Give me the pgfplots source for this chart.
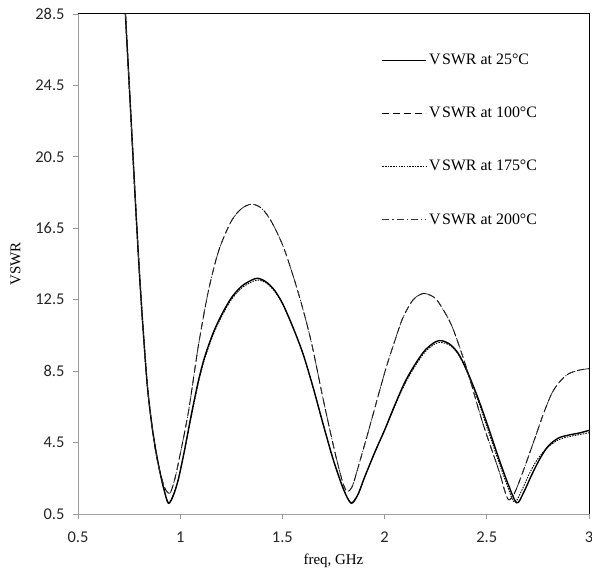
\documentclass[border=0pt]{standalone}
\usepackage{fontspec}
\setmainfont{Liberation Serif}
\newfontfamily\tickfont{Carlito}
\usepackage{pgfplots}
\pgfplotsset{compat=1.18}
\usepackage{pgfplotstable}
\usetikzlibrary{calc}

\pgfplotstableread{
f v
0.725 30.2
0.732 28.5
0.755 23.6
0.778 18.6
0.80 14.1
0.82 10.6
0.84 7.6
0.86 5.6
0.88 4.1
0.90 2.9
0.92 1.9
0.942 1.1
0.965 1.5
0.99 2.4
1.02 4.0
1.055 6.1
1.09 8.0
1.12 9.3
1.16 10.6
1.20 11.6
1.25 12.6
1.30 13.25
1.35 13.6
1.38 13.7
1.42 13.5
1.46 13.05
1.50 12.3
1.55 11.0
1.60 9.5
1.65 7.6
1.70 5.5
1.75 3.5
1.80 1.85
1.837 1.1
1.87 1.6
1.90 2.5
1.95 3.9
2.00 5.2
2.05 6.6
2.10 7.9
2.15 8.9
2.20 9.7
2.25 10.15
2.28 10.2
2.32 10.0
2.36 9.5
2.40 8.6
2.45 7.2
2.50 5.6
2.55 3.9
2.60 2.3
2.646 1.13
2.68 1.7
2.72 2.7
2.76 3.6
2.80 4.3
2.85 4.75
2.90 4.92
2.95 5.03
3.00 5.18
}\tA

\pgfplotstableread{
f v
0.725 30.2
0.732 28.5
0.755 23.6
0.778 18.6
0.80 14.1
0.82 10.6
0.84 7.6
0.86 5.6
0.88 4.0
0.90 2.9
0.925 1.95
0.949 1.66
0.97 2.3
0.99 3.3
1.04 6.2
1.09 10.0
1.14 13.1
1.19 15.3
1.25 16.9
1.30 17.6
1.35 17.85
1.40 17.6
1.45 16.8
1.51 15.3
1.58 12.8
1.64 10.2
1.70 6.9
1.75 4.3
1.78 2.9
1.80 2.1
1.818 1.75
1.84 2.0
1.86 2.7
1.92 5.1
2.00 8.4
2.05 10.2
2.09 11.5
2.14 12.5
2.19 12.85
2.24 12.65
2.27 12.25
2.33 11.0
2.40 8.7
2.48 5.6
2.56 2.9
2.585 1.9
2.606 1.3
2.63 1.55
2.655 2.2
2.70 3.6
2.74 4.9
2.78 6.2
2.82 7.3
2.86 7.95
2.90 8.35
2.95 8.55
3.00 8.64
}\tB

\pgfplotstableread{
f v
0.725 30.2
0.732 28.5
0.755 23.6
0.778 18.6
0.80 14.1
0.82 10.6
0.84 7.6
0.86 5.6
0.88 4.1
0.90 2.9
0.92 1.9
0.942 1.15
0.965 1.55
0.99 2.4
1.02 4.0
1.055 6.0
1.09 7.9
1.12 9.2
1.16 10.5
1.20 11.5
1.25 12.5
1.30 13.15
1.35 13.5
1.38 13.6
1.42 13.45
1.46 13.0
1.50 12.3
1.55 11.0
1.60 9.5
1.65 7.6
1.70 5.5
1.75 3.5
1.80 1.9
1.835 1.15
1.87 1.6
1.90 2.5
1.95 3.9
2.00 5.2
2.05 6.55
2.10 7.8
2.15 8.8
2.20 9.6
2.25 10.05
2.28 10.1
2.32 9.95
2.36 9.45
2.40 8.55
2.45 7.1
2.50 5.4
2.55 3.7
2.60 2.1
2.635 1.15
2.67 1.8
2.71 2.8
2.75 3.6
2.80 4.25
2.85 4.65
2.90 4.83
2.95 4.94
3.00 5.05
}\tC

\pgfplotstableread{
f v
0.725 30.2
0.732 28.5
0.755 23.6
0.778 18.6
0.80 14.1
0.82 10.6
0.84 7.6
0.86 5.6
0.88 4.0
0.90 2.9
0.925 1.95
0.949 1.66
0.97 2.3
0.99 3.3
1.04 6.2
1.09 10.0
1.14 13.1
1.19 15.3
1.25 16.9
1.30 17.6
1.35 17.85
1.40 17.6
1.45 16.8
1.51 15.3
1.58 12.8
1.64 10.2
1.70 6.9
1.75 4.3
1.78 2.9
1.80 2.1
1.818 1.75
1.84 2.0
1.86 2.7
1.92 5.1
2.00 8.4
2.05 10.2
2.09 11.5
2.14 12.5
2.19 12.85
2.24 12.65
2.27 12.25
2.33 11.0
2.40 8.7
2.48 5.6
2.56 2.9
2.585 1.9
2.606 1.3
2.63 1.55
2.655 2.2
2.70 3.6
2.74 4.9
2.78 6.2
2.82 7.3
2.86 7.95
2.90 8.35
2.95 8.55
3.00 8.64
}\tD

\begin{document}
\begin{tikzpicture}
\begin{axis}[
  scale only axis, width=511bp, height=500bp,
  xmin=0.5, xmax=3, ymin=0.5, ymax=28.5,
  xtick={0.5,1,1.5,2,2.5,3},
  ytick={0.5,4.5,8.5,12.5,16.5,20.5,24.5,28.5},
  yticklabels={0.5,4.5,8.5,12.5,16.5,20.5,24.5,28.5},
  xticklabels={0.5,1,1.5,2,2.5,3},
  tick label style={font=\tickfont\fontsize{16.5}{19}\selectfont, text=black!85},
  xticklabel style={yshift=-9bp},
  yticklabel style={xshift=-5bp},
  axis line style={draw=none},
  tick style={draw=gray!80, line width=0.8bp},
  major tick length=5bp,
  tick align=outside,
  xtick pos=left, ytick pos=left,
  xlabel={freq, GHz},
  ylabel={VSWR},
  label style={font=\fontsize{15}{18}\selectfont},
  xlabel style={yshift=-5bp},
  ylabel style={yshift=8bp},
  legend style={draw=none, fill=none, at={(axis description cs:0.588,0.928)}, anchor=north west,
    font=\fontsize{16}{19}\selectfont, row sep=37bp},
  legend cell align=left,
  legend image code/.code={\draw[#1] (0bp,0bp) -- (44bp,0bp);},
]
\addplot[black, line width=1.4bp, smooth, tension=0.5] table[x=f,y=v] {\tA};
\addlegendentry{V\kern1.5pt SWR at 25°C}
\addplot[black, line width=0.9bp, dash pattern=on 7bp off 4bp, smooth, tension=0.5] table[x=f,y=v] {\tB};
\addlegendentry{V\kern1.5pt SWR at 100°C}
\addplot[black, line width=0.9bp, dash pattern=on 1.5bp off 1.2bp, smooth, tension=0.5] table[x=f,y=v] {\tC};
\addlegendentry{V\kern1.5pt SWR at 175°C}
\addplot[black!80, line width=0.8bp, dash pattern=on 7bp off 3bp on 1.2bp off 3bp, smooth, tension=0.5] table[x=f,y=v] {\tD};
\addlegendentry{V\kern1.5pt SWR at 200°C}
\end{axis}
\draw[gray!75, line width=0.8bp] (current axis.north west) -- (current axis.south west) -- (current axis.south east);
\draw[black, line width=1bp] (current axis.north west) -- (current axis.north east) -- (current axis.south east);
\pgfresetboundingbox
\path[use as bounding box] ($(current axis.south west)+(-78bp,-57bp)$) rectangle ($(current axis.north east)+(3bp,14bp)$);
\end{tikzpicture}
\end{document}
